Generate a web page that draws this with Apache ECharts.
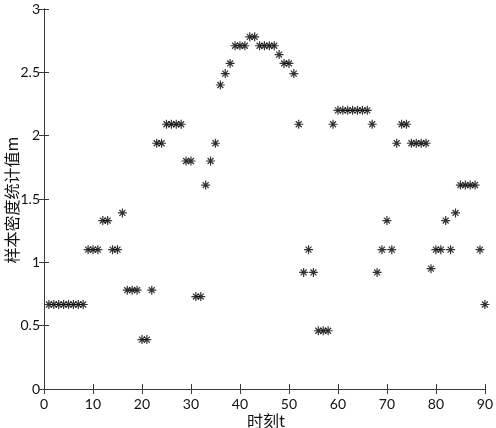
<!DOCTYPE html>
<html>
<head>
<meta charset="utf-8">
<script src="https://cdn.jsdelivr.net/npm/echarts@6/dist/echarts.min.js"></script>
<style>
html,body{margin:0;padding:0;background:#fff;}
#c{width:496px;height:428px;}
</style>
</head>
<body>
<div id="c"></div>
<script>
var tValues = [];
for (var i = 1; i <= 90; i++) tValues.push(i);
var densityValues = [
  0.667, 0.667, 0.667, 0.667, 0.667, 0.667, 0.667, 0.667, // 1-8
  1.1, 1.1, 1.1,          // 9-11
  1.33, 1.33,             // 12-13
  1.1, 1.1,               // 14-15
  1.39,                   // 16
  0.78, 0.78, 0.78,       // 17-19
  0.39, 0.39,             // 20-21
  0.78,                   // 22
  1.94, 1.94,             // 23-24
  2.09, 2.09, 2.09, 2.09, // 25-28
  1.8, 1.8,               // 29-30
  0.73, 0.73,             // 31-32
  1.61,                   // 33
  1.8,                    // 34
  1.94,                   // 35
  2.4,                    // 36
  2.49,                   // 37
  2.57,                   // 38
  2.71, 2.71, 2.71,       // 39-41
  2.78, 2.78,             // 42-43
  2.71, 2.71, 2.71, 2.71, // 44-47
  2.64,                   // 48
  2.57, 2.57,             // 49-50
  2.49,                   // 51
  2.09,                   // 52
  0.92,                   // 53
  1.1,                    // 54
  0.92,                   // 55
  0.46, 0.46, 0.46,       // 56-58
  2.09,                   // 59
  2.2, 2.2, 2.2, 2.2, 2.2, 2.2, 2.2, // 60-66
  2.09,                   // 67
  0.92,                   // 68
  1.1,                    // 69
  1.33,                   // 70
  1.1,                    // 71
  1.94,                   // 72
  2.09, 2.09,             // 73-74
  1.94, 1.94, 1.94, 1.94, // 75-78
  0.95,                   // 79
  1.1, 1.1,               // 80-81
  1.33,                   // 82
  1.1,                    // 83
  1.39,                   // 84
  1.61, 1.61, 1.61, 1.61, // 85-88
  1.1,                    // 89
  0.667                   // 90
];
var xTicks = [0, 10, 20, 30, 40, 50, 60, 70, 80, 90];
var yTicks = [0, 0.5, 1, 1.5, 2, 2.5, 3];
var xTitle = '时刻t';
var yTitle = '样本密度统计值m';

var points = tValues.map(function (t, i) { return [t, densityValues[i]]; });
var font = 'Lato, "Noto Sans CJK SC", sans-serif';
var axisCol = '#3a3a3a';

var chart = echarts.init(document.getElementById('c'), null, {renderer: 'canvas'});
chart.setOption({
  animation: false,
  backgroundColor: '#fff',
  grid: {left: 44, right: 7, top: 9, bottom: 39, containLabel: false},
  xAxis: [{
    type: 'value', min: xTicks[0], max: xTicks[xTicks.length - 1], interval: 10,
    position: 'bottom',
    axisLine: {show: true, lineStyle: {color: axisCol, width: 1}},
    axisTick: {show: true, inside: true, length: 5, lineStyle: {color: axisCol}},
    axisLabel: {color: '#111', fontSize: 14, fontFamily: font, margin: 8},
    splitLine: {show: false}
  }, {
    type: 'value', min: xTicks[0], max: xTicks[xTicks.length - 1], interval: 10,
    position: 'top',
    axisLine: {show: true, lineStyle: {color: axisCol, width: 1}},
    axisTick: {show: true, inside: true, length: 5, lineStyle: {color: axisCol}},
    axisLabel: {show: false},
    splitLine: {show: false}
  }],
  yAxis: [{
    type: 'value', min: yTicks[0], max: yTicks[yTicks.length - 1], interval: 0.5,
    position: 'left',
    axisLine: {show: true, lineStyle: {color: axisCol, width: 1}},
    axisTick: {show: true, inside: true, length: 5, lineStyle: {color: axisCol}},
    axisLabel: {color: '#111', fontSize: 14, fontFamily: font, margin: 4},
    splitLine: {show: false}
  }, {
    type: 'value', min: yTicks[0], max: yTicks[yTicks.length - 1], interval: 0.5,
    position: 'right',
    axisLine: {show: true, lineStyle: {color: axisCol, width: 1}},
    axisTick: {show: true, inside: true, length: 5, lineStyle: {color: axisCol}},
    axisLabel: {show: false},
    splitLine: {show: false}
  }],
  graphic: [{
    type: 'text', x: 266, y: 421,
    style: {text: xTitle, font: '16px "Noto Sans CJK SC", sans-serif', fill: '#111', textAlign: 'center', textVerticalAlign: 'middle'}
  }, {
    type: 'text',
    x: 12, y: 200, rotation: Math.PI / 2,
    style: {text: yTitle, font: '16px "Noto Sans CJK SC", sans-serif', fill: '#111', textAlign: 'center', textVerticalAlign: 'middle'}
  }],
  series: [{
    type: 'scatter',
    xAxisIndex: 0, yAxisIndex: 0,
    data: points,
    symbol: 'path://M0,-5 L0,5 M-5,0 L5,0 M-3.3,-3.3 L3.3,3.3 M-3.3,3.3 L3.3,-3.3',
    symbolSize: 9,
    itemStyle: {color: 'rgba(0,0,0,0)', borderColor: '#000', borderWidth: 1.2},
    clip: false
  }]
});
</script>
</body>
</html>
